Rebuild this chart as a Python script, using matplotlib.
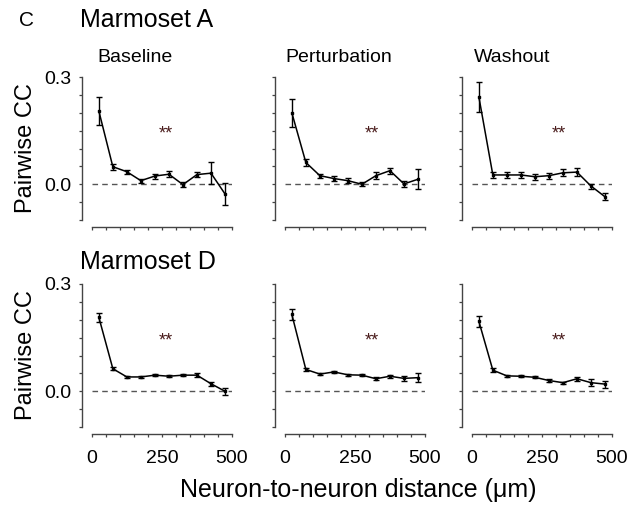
import matplotlib
matplotlib.use("Agg")
import matplotlib.pyplot as plt
from matplotlib.ticker import MultipleLocator, FixedLocator

plt.rcParams['font.family'] = ['Liberation Sans', 'DejaVu Sans']

# distance bins (um)
dist = [25, 75, 125, 175, 225, 275, 325, 375, 425, 475]

# Marmoset A
a_base = [0.205, 0.049, 0.035, 0.010, 0.023, 0.028, -0.001, 0.027, 0.031, -0.027]
a_base_err = [0.04, 0.008, 0.006, 0.006, 0.007, 0.008, 0.007, 0.008, 0.03, 0.03]
a_pert = [0.200, 0.061, 0.024, 0.016, 0.010, 0.000, 0.024, 0.038, 0.001, 0.014]
a_pert_err = [0.039, 0.01, 0.006, 0.006, 0.007, 0.005, 0.01, 0.008, 0.009, 0.028]
a_wash = [0.245, 0.026, 0.026, 0.026, 0.021, 0.024, 0.032, 0.034, -0.005, -0.035]
a_wash_err = [0.042, 0.008, 0.008, 0.008, 0.008, 0.008, 0.01, 0.012, 0.007, 0.01]

# Marmoset D
d_base = [0.207, 0.063, 0.040, 0.040, 0.045, 0.042, 0.045, 0.045, 0.021, 0.000]
d_base_err = [0.012, 0.004, 0.003, 0.003, 0.003, 0.003, 0.003, 0.006, 0.006, 0.01]
d_pert = [0.215, 0.061, 0.048, 0.054, 0.046, 0.045, 0.035, 0.042, 0.036, 0.038]
d_pert_err = [0.016, 0.005, 0.003, 0.003, 0.003, 0.003, 0.004, 0.004, 0.008, 0.012]
d_wash = [0.196, 0.059, 0.043, 0.042, 0.039, 0.030, 0.024, 0.035, 0.024, 0.020]
d_wash_err = [0.015, 0.005, 0.003, 0.003, 0.003, 0.003, 0.003, 0.006, 0.009, 0.01]

rows = [
    [(a_base, a_base_err), (a_pert, a_pert_err), (a_wash, a_wash_err)],
    [(d_base, d_base_err), (d_pert, d_pert_err), (d_wash, d_wash_err)],
]
conditions = ["Baseline", "Perturbation", "Washout"]
animals = ["Marmoset A", "Marmoset D"]
star_x = [265, 312, 312]
star_y = 0.14

W, H = 633, 518
fig = plt.figure(figsize=(W / 100, H / 100), dpi=100)

def fx(px):
    return px / W

def fy(py):
    return 1 - py / H

col_left = [82, 275, 462]
col_width = 150
row_top = [77, 284]
row_height = 143

spine_col = '#444444'

for r in range(2):
    for c in range(3):
        mean, err = rows[r][c]
        ax = fig.add_axes([fx(col_left[c]), fy(row_top[r] + row_height),
                           fx(col_width), row_height / H])
        ax.set_xlim(-35, 500)
        ax.set_ylim(-0.1, 0.3)
        ax.hlines(0, 0, 500, colors='#555555', linestyles=(0, (4, 3)), linewidth=1)
        ax.errorbar(dist, mean, yerr=err, color='black', linewidth=1.1,
                    elinewidth=1.0, capsize=2.2, capthick=1.0, marker='s', markersize=2)
        ax.text(star_x[c], star_y, "**", ha='center', va='center', fontsize=13,
                color='#4a1c1c')

        for s in ['top', 'right']:
            ax.spines[s].set_visible(False)
        ax.spines['left'].set_bounds(-0.1, 0.3)
        ax.spines['bottom'].set_bounds(0, 500)
        ax.spines['bottom'].set_position(('outward', 5))
        for s in ['left', 'bottom']:
            ax.spines[s].set_color(spine_col)
            ax.spines[s].set_linewidth(1)

        ax.yaxis.set_major_locator(FixedLocator([0.0, 0.3]))
        ax.yaxis.set_minor_locator(MultipleLocator(0.05))
        ax.xaxis.set_major_locator(FixedLocator([0, 250, 500]))
        ax.xaxis.set_minor_locator(MultipleLocator(50))
        ax.tick_params(which='both', length=2.5, width=0.9, color=spine_col,
                       labelsize=14)
        ax.tick_params(axis='y', pad=5)
        ax.tick_params(axis='x', pad=9)
        ax.set_yticklabels(["0.0", "0.3"])
        if c > 0:
            ax.tick_params(axis='y', labelleft=False)
        if r == 0:
            ax.tick_params(axis='x', labelbottom=False)
        ax.patch.set_visible(False)

        if r == 0:
            fig.text(fx(col_left[c] + [15, 10, 12][c]), fy(58), conditions[c],
                     fontsize=14, ha='left', va='center')

    fig.text(fx(26), fy(row_top[r] + row_height / 2), "Pairwise CC", rotation=90,
             fontsize=17, ha='center', va='center')

fig.text(fx(80), fy(20), animals[0], fontsize=18, ha='left', va='center')
fig.text(fx(80), fy(262), animals[1], fontsize=18, ha='left', va='center')
fig.text(fx(19), fy(20), "C", fontsize=15, ha='left', va='center')
fig.text(fx(358), fy(490), "Neuron-to-neuron distance (μm)", fontsize=18,
         ha='center', va='center')

fig.savefig("out.png", dpi=100)
